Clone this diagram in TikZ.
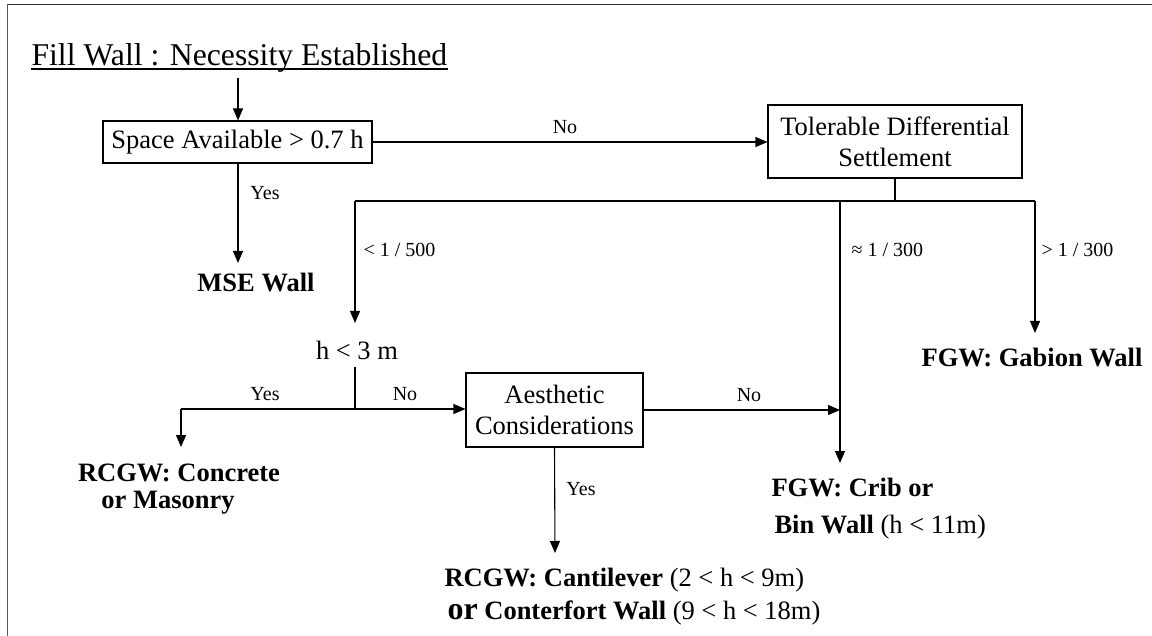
\documentclass[tikz,border=0pt]{standalone}
\usepackage{fontspec}
\setmainfont{Liberation Serif}
\usetikzlibrary{arrows.meta}
\begin{document}
\begin{tikzpicture}[x=1pt,y=-1pt,
  line width=1.1pt,
  arr/.style={-{Triangle[length=12pt,width=10pt]}},
  box/.style={draw, line width=1.1pt, inner sep=0pt, align=center,
    font=\fontsize{26.5}{31}\selectfont},
  txt/.style={inner sep=0pt, font=\fontsize{26.5}{31}\selectfont},
  lbl/.style={inner sep=0pt, font=\fontsize{20}{24}\selectfont},
  res/.style={inner sep=0pt, font=\fontsize{26.5}{31}\selectfont\bfseries},
  frame/.style={line width=1.6pt}]
\useasboundingbox (0,0) rectangle (1152,636);
% frame (top and left edges)
\draw[frame, black!80] (7,4.5) -- (1152,4.5);
\draw[frame, black!65] (7.5,4) -- (7.5,636);

% title
\node[inner sep=0pt, anchor=base west, font=\fontsize{31.7}{36}\selectfont] (title) at (31,66)
  {Fill Wall : Necessity Established};
\draw[line width=1.5pt] ([yshift=-2.8pt]title.base west) -- ([yshift=-2.8pt]title.base east);

% boxes
\node[box, minimum width=269pt, minimum height=42pt] (space) at (237.5,142) {Space Available > 0.7 h};
\node[box, minimum width=254pt, minimum height=73pt] (tol) at (895,141.5) {Tolerable Differential\\Settlement};
\node[box, minimum width=177pt, minimum height=74pt] (aes) at (554.5,410) {Aesthetic\\Considerations};
\node[txt] (h3) at (357,350) {h < 3 m};

% results
\node[res] (mse) at (256,283) {MSE Wall};
\node[res] (gab) at (1032,358) {FGW: Gabion Wall};
\node[res] (rc1) at (179,473) {RCGW: Concrete};
\node[res] (rc2) at (168,503) {or Masonry};
\node[res, anchor=west] (crib1) at (771,488) {FGW: Crib or};
\node[res, anchor=west] (crib2) at (774,527) {Bin Wall {\mdseries (h < 11m)}};
\node[res, anchor=west] (cant1) at (444,580) {RCGW: Cantilever {\mdseries (2 < h < 9m)}};
\node[res, anchor=west] (cant2) at (447,613) {{\fontsize{32}{36}\selectfont or} Conterfort Wall {\mdseries (9 < h < 18m)}};

% labels
\node[lbl] (lno1) at (565,127) {No};
\node[lbl] (lyes1) at (265,193) {Yes};
\node[lbl, anchor=west] (l500) at (363,250) {< 1 / 500};
\node[lbl, anchor=west] (l300a) at (851,250) {≈ 1 / 300};
\node[lbl, anchor=west] (l300b) at (1041,250) {> 1 / 300};
\node[lbl] (lyes2) at (265,394) {Yes};
\node[lbl] (lno2) at (405,394) {No};
\node[lbl] (lno3) at (749,395) {No};
\node[lbl] (lyes3) at (581,489) {Yes};

% coordinates
\coordinate (t0) at (238,78);
\coordinate (mseTip) at (238,263);
\coordinate (jc) at (895,201);
\coordinate (jl) at (355,201);
\coordinate (jm) at (840,201);
\coordinate (jr) at (1035,201);
\coordinate (hTip) at (355,323);
\coordinate (cribTip) at (840,463);
\coordinate (gabTip) at (1035,333);
\coordinate (hs) at (355,367);
\coordinate (hj) at (355,409);
\coordinate (hl) at (181,409);
\coordinate (rcTip) at (181,447);
\coordinate (cantTip) at (555,553);

% connectors
\draw[arr] (t0) -- (t0 |- space.north);
\draw[arr] (space.east) -- (space.east -| tol.west);
\draw[arr] (space.south -| t0) -- (mseTip);
\draw (tol.south) -- (jc);
\draw (jl) -- (jr);
\draw[arr] (jl) -- (hTip);
\draw[arr] (jm) -- (cribTip);
\draw[arr] (jr) -- (gabTip);
\draw (hs) -- (hj);
\draw[arr] (hl) -- (hl -| aes.west);
\draw[arr] (hl) -- (rcTip);
\draw[arr] (aes.east) -- (aes.east -| jm);
\draw[arr] (aes.south) -- (cantTip);
\end{tikzpicture}
\end{document}
